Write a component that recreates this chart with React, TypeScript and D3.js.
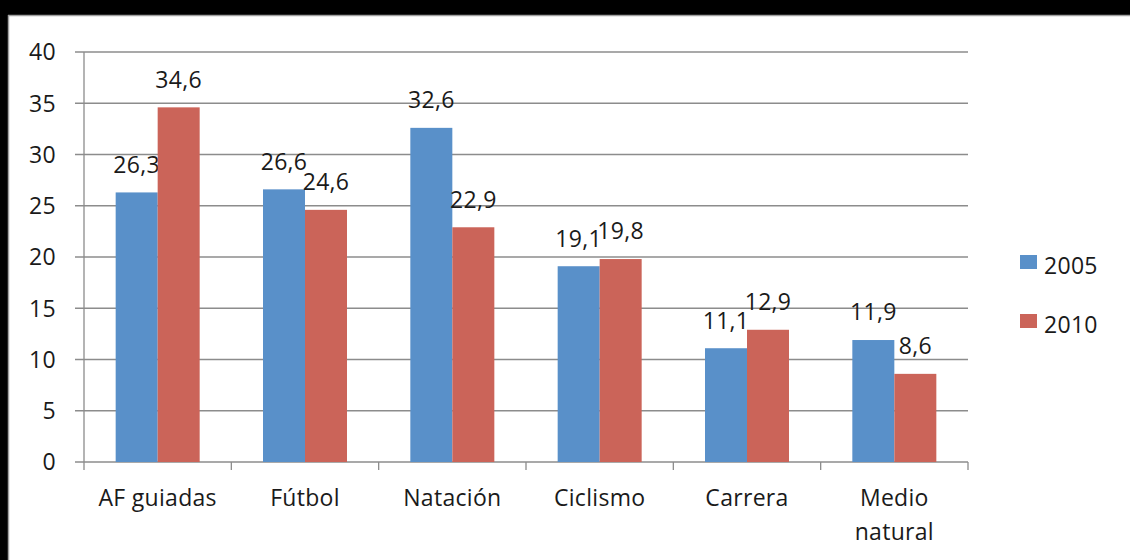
import React, { useEffect, useRef } from "react";
import * as d3 from "d3";

const categories = ["AF guiadas", "Fútbol", "Natación", "Ciclismo", "Carrera", "Medio natural"];
const series2005 = [26.3, 26.6, 32.6, 19.1, 11.1, 11.9];
const series2010 = [34.6, 24.6, 22.9, 19.8, 12.9, 8.6];
const seriesNames = ["2005", "2010"];
const seriesColors = ["#5990C9", "#CB6459"];
const yTicks = [0, 5, 10, 15, 20, 25, 30, 35, 40];

const W = 1130;
const H = 560;
const FONT = "'Open Sans', sans-serif";
const FS = 23;

export default function App() {
  const ref = useRef<SVGSVGElement>(null);

  useEffect(() => {
    const svg = d3.select(ref.current);
    svg.selectAll("*").remove();

    // frame
    svg.append("rect").attr("width", W).attr("height", H).attr("fill", "#fff");
    svg.append("rect").attr("x", 0).attr("y", 0).attr("width", W).attr("height", 15).attr("fill", "#000");
    svg.append("rect").attr("x", 0).attr("y", 0).attr("width", 8).attr("height", H).attr("fill", "#000");
    svg.append("line").attr("x1", 8).attr("x2", W).attr("y1", 15.5).attr("y2", 15.5).attr("stroke", "#a0a0a0").attr("stroke-width", 1.5);
    svg.append("line").attr("x1", 8.5).attr("x2", 8.5).attr("y1", 15).attr("y2", H).attr("stroke", "#a0a0a0").attr("stroke-width", 1.5);

    const left = 84, right = 968, top = 52, bottom = 462;
    const y = d3.scaleLinear().domain([0, 40]).range([bottom, top]);
    const x0 = d3.scaleBand<string>().domain(categories).range([left, right]).paddingInner(0).paddingOuter(0);
    const groupW = 84;
    const x1 = d3.scaleBand<string>().domain(seriesNames).range([0, groupW]);

    const g = svg.append("g");
    const txt = (sel: any) =>
      sel.attr("font-family", FONT).attr("font-size", FS).attr("fill", "#1a1a1a")
        .attr("letter-spacing", 0.3).attr("dy", "0.36em");

    // gridlines
    yTicks.forEach((t) => {
      g.append("line")
        .attr("x1", left - 9).attr("x2", right)
        .attr("y1", y(t)).attr("y2", y(t))
        .attr("stroke", "#8c8c8c").attr("stroke-width", 1.3);
      txt(g.append("text").attr("x", 56).attr("y", y(t)).attr("text-anchor", "end")).text(t);
    });
    // y axis
    g.append("line").attr("x1", left).attr("x2", left).attr("y1", top).attr("y2", bottom)
      .attr("stroke", "#8c8c8c").attr("stroke-width", 1.3);
    // x ticks
    for (let i = 0; i <= categories.length; i++) {
      const xx = left + i * x0.bandwidth();
      g.append("line").attr("x1", xx).attr("x2", xx).attr("y1", bottom).attr("y2", bottom + 8)
        .attr("stroke", "#8c8c8c").attr("stroke-width", 1.3);
    }

    const data = [series2005, series2010];
    categories.forEach((c, i) => {
      const gx = (x0(c) ?? 0) + (x0.bandwidth() - groupW) / 2;
      seriesNames.forEach((s, j) => {
        const v = data[j][i];
        const bx = gx + (x1(s) ?? 0);
        g.append("rect")
          .attr("x", bx).attr("y", y(v))
          .attr("width", x1.bandwidth()).attr("height", bottom - y(v))
          .attr("fill", seriesColors[j]);
        txt(g.append("text")
          .attr("x", bx + x1.bandwidth() / 2).attr("y", y(v) - 28)
          .attr("text-anchor", "middle"))
          .text(String(v).replace(".", ","));
      });
      const words = c === "Medio natural" ? ["Medio", "natural"] : [c];
      words.forEach((w, k) => {
        txt(g.append("text")
          .attr("x", (x0(c) ?? 0) + x0.bandwidth() / 2).attr("y", 498 + k * 34)
          .attr("text-anchor", "middle"))
          .text(w);
      });
    });

    // legend
    seriesNames.forEach((s, j) => {
      const ly = 255 + j * 59;
      svg.append("rect").attr("x", 1020).attr("y", ly).attr("width", 17).attr("height", 14).attr("fill", seriesColors[j]);
      txt(svg.append("text").attr("x", 1044).attr("y", ly + 11)).text(s);
    });
  }, []);

  return (
    <div style={{ position: "absolute", left: 0, top: 0 }}>
      <svg ref={ref} width={W} height={H} style={{ display: "block" }} />
    </div>
  );
}
